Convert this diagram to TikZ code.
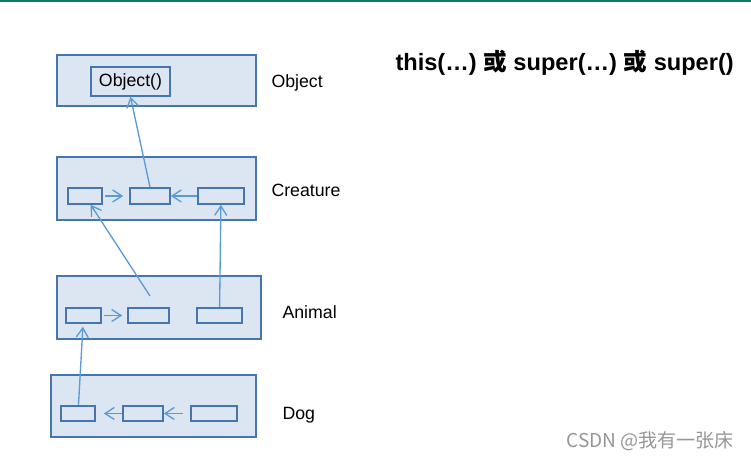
\documentclass[tikz,border=0pt]{standalone}
\usepackage{fontspec}
\setmainfont{Liberation Sans}
\newfontfamily\cjk{Noto Sans CJK SC}
\usetikzlibrary{arrows.meta}

\newlength{\px}\setlength{\px}{0.75pt}
\definecolor{boxfill}{RGB}{220,230,242}
\definecolor{boxline}{RGB}{70,118,176}
\definecolor{linkblue}{RGB}{91,155,213}
\definecolor{topbar}{RGB}{16,122,96}
\definecolor{markgray}{RGB}{150,150,150}

\tikzset{every picture/.style={line width=0.75pt}}
\tikzset{
  frame/.style={draw=boxline, fill=boxfill, line width=1pt, inner sep=0pt},
  cell/.style={draw=boxline, fill=boxfill, line width=1.2pt, inner sep=0pt, minimum height=15\px},
  link/.style={draw=linkblue, line width=1pt, -{Straight Barb[length=7pt,width=9pt]}},
  tag/.style={anchor=west, inner sep=0pt, font=\fontsize{13.3}{16}\selectfont}
}

\begin{document}
\begin{tikzpicture}[x=0.75pt,y=0.75pt,yscale=-1,xscale=1]
\useasboundingbox (0,0) rectangle (751,459);

%Shape: Rectangle (top bar)
\fill[topbar] (0,0) rectangle (751,2);

%Shape: Rectangle [Object]
\node (objframe) at (156.5,80.5) [frame, minimum width=199\px, minimum height=51\px] {};
\node (obj) at (130.5,81.5) [cell, minimum width=79\px, minimum height=29\px, font=\fontsize{13.3}{16}\selectfont] {Object()};
%Shape: Rectangle [Creature]
\node (creframe) at (156.5,188.5) [frame, minimum width=199\px, minimum height=63\px] {};
\node (c1) at (85,196) [cell, minimum width=34\px, minimum height=16\px] {};
\node (c2) at (150,196) [cell, minimum width=40\px, minimum height=16\px] {};
\node (c3) at (221,196) [cell, minimum width=46\px, minimum height=16\px] {};
%Shape: Rectangle [Animal]
\node (aniframe) at (159,307.5) [frame, minimum width=204\px, minimum height=63\px] {};
\node (a1) at (83.5,315.5) [cell, minimum width=35\px] {};
\node (a2) at (148.5,315.5) [cell, minimum width=41\px] {};
\node (a3) at (219.5,315.5) [cell, minimum width=45\px] {};
%Shape: Rectangle [Dog]
\node (dogframe) at (153.5,406) [frame, minimum width=205\px, minimum height=62\px] {};
\node (d1) at (78,413.5) [cell, minimum width=34\px] {};
\node (d2) at (143,413.5) [cell, minimum width=40\px] {};
\node (d3) at (214,413.5) [cell, minimum width=46\px] {};

\coordinate (abranch) at (150,296);

%Straight Lines
\draw[link] (c2.north) -- (obj.south);
\draw[link, shorten <=2\px, shorten >=6\px] (c1) -- (c2);
\draw[link] (c3) -- (c2);
\draw[link, shorten <=2\px, shorten >=5\px] (a1) -- (a2);
\draw[link] (abranch) -- (c1);
\draw[link] (a3) -- (c3);
\draw[link, shorten >=3\px] (d1) -- (a1);
\draw[link, shorten >=8\px] (d2) -- (d1);
\draw[link, shorten <=7\px] (d3) -- (d2);

% Text Node
\node (objtag) at (271,83) [tag] {Object};
% Text Node
\node (cretag) at (271,190) [tag] {Creature};
% Text Node
\node (anitag) at (282,312) [tag] {Animal};
% Text Node
\node (dogtag) at (282,415) [tag] {Dog};
% Text Node
\node (title) at (395,63) [anchor=west, inner sep=0pt, font=\bfseries\fontsize{17.7}{22}\selectfont] {this(…) {\cjk 或} super(…) {\cjk 或} super()};
% Text Node
\node (mark) at (566,441) [anchor=west, inner sep=0pt, text=markgray, font=\cjk\fontsize{14.3}{17}\selectfont] {CSDN @我有一张床};

\end{tikzpicture}
\end{document}
